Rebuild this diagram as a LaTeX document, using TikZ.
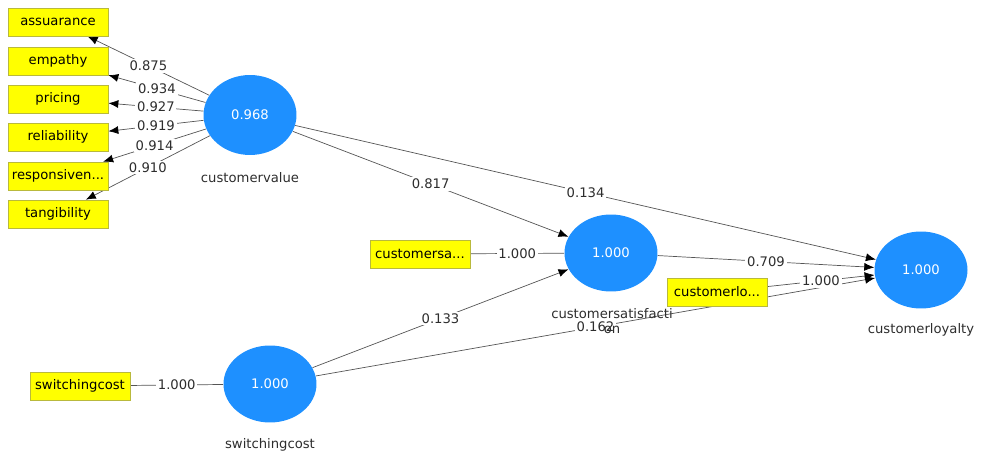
\documentclass[tikz,border=0pt]{standalone}
\usepackage{fontspec}
\setmainfont{DejaVu Sans}
\usetikzlibrary{shapes.geometric,arrows.meta,backgrounds}
\definecolor{lvblue}{RGB}{30,144,255}
\definecolor{mvyellow}{RGB}{255,255,0}
\definecolor{mvedge}{RGB}{185,185,60}
\definecolor{conngray}{RGB}{85,85,85}
\definecolor{txtgray}{RGB}{45,45,45}
\begin{document}
\begin{tikzpicture}[x=0.02cm,y=-0.02cm,font=\fontsize{7.5}{9}\selectfont,text=txtgray,
  mv/.style={draw=mvedge,fill=mvyellow,text=black,minimum width=2cm,minimum height=0.56cm,inner sep=0pt},
  lv/.style={ellipse,fill=lvblue,text=white,minimum width=1.86cm,minimum height=1.54cm,inner sep=0pt},
  conn/.style={draw=conngray,-{Latex[color=black,length=2mm,width=1.6mm]}},
  plain/.style={draw=conngray},
  wt/.style={fill=white,inner sep=1pt}]
\useasboundingbox (0,0) rectangle (984,455);
% indicators
\node[mv] at (58,22) (assu) {assuarance};
\node[mv] at (58,61) (emp) {empathy};
\node[mv] at (58,99) (pri) {pricing};
\node[mv] at (58,137) (rel) {reliability};
\node[mv] at (58,176) (resp) {responsiven...};
\node[mv] at (58,214) (tang) {tangibility};
\node[mv] at (420,254) (csitem) {customersa...};
\node[mv] at (717,292) (clitem) {customerlo...};
\node[mv] at (80,386) (scitem) {switchingcost};
% constructs
\node[lv,minimum height=1.6cm] at (250,115) (cv) {0.968};
\node[lv] at (611,253) (cs) {1.000};
\node[lv] at (921,270) (cl) {1.000};
\node[lv] at (270,384) (sc) {1.000};
\node at (250,178) (cvname) {customervalue};
\node[align=center] at (612,321) (csname) {customersatisfacti\\on};
\node at (921,330) (clname) {customerloyalty};
\node at (270,445) (scname) {switchingcost};
% paths
\begin{pgfonlayer}{background}
\draw[conn] (cv) -- node[wt] (wassu) {0.875} (assu);
\draw[conn] (cv) -- node[wt] (wemp) {0.934} (emp);
\draw[conn] (cv) -- node[wt] (wpri) {0.927} (pri);
\draw[conn] (cv) -- node[wt] (wrel) {0.919} (rel);
\draw[conn] (cv) -- node[wt] (wresp) {0.914} (resp);
\draw[conn] (cv) -- node[wt] (wtang) {0.910} (tang);
\draw[conn] (cv) -- node[wt] (wcvcs) {0.817} (cs);
\draw[conn] (cv) -- node[wt] (wcvcl) {0.134} (cl);
\draw[conn] (cs) -- node[wt] (wcscl) {0.709} (cl);
\draw[conn] (sc) -- node[wt] (wsccs) {0.133} (cs);
\draw[conn] (sc) -- node[wt] (wsccl) {0.162} (cl);
\draw[conn] (clitem) -- node[wt] (wclitem) {1.000} (cl);
\draw[plain] (csitem) -- node[wt] (wcsitem) {1.000} (cs);
\draw[plain] (scitem) -- node[wt] (wscitem) {1.000} (sc);
\end{pgfonlayer}
\end{tikzpicture}
\end{document}
